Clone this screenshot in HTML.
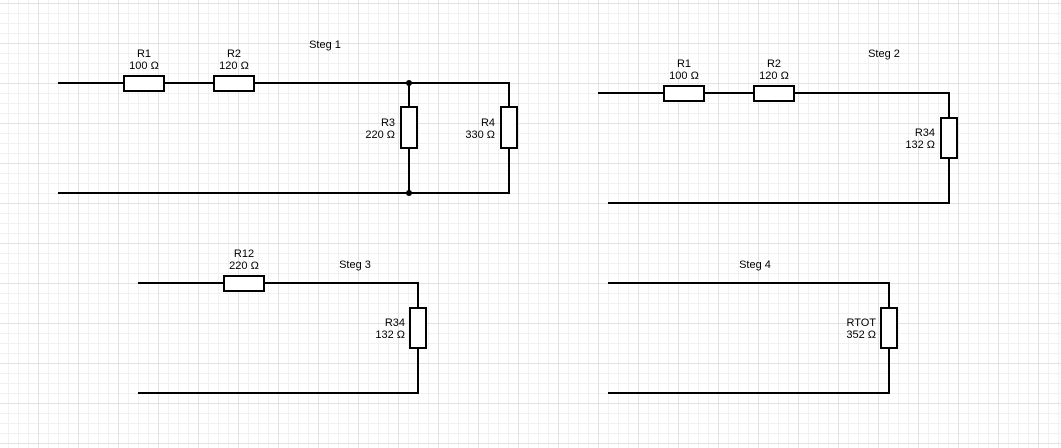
<!DOCTYPE html>
<html><head><meta charset="utf-8"><style>
html,body{margin:0;padding:0;background:#fff}
body{width:1061px;height:448px;overflow:hidden;
background-image:linear-gradient(#e2e2e2 1px,transparent 1px),linear-gradient(90deg,#e2e2e2 1px,transparent 1px),linear-gradient(#f1f1f1 1px,transparent 1px),linear-gradient(90deg,#f1f1f1 1px,transparent 1px);
background-size:40px 40px,40px 40px,10px 10px,10px 10px;background-position:-2px 3px,-2px 3px,-2px 3px,-2px 3px}
svg text{font-family:"Liberation Sans",Arial,sans-serif;font-size:11px;fill:#000}
</style></head><body>
<svg width="1061" height="448" xmlns="http://www.w3.org/2000/svg" style="position:absolute;left:0;top:0">
<g stroke="#000" stroke-width="2" fill="none">
<!-- Steg1 -->
<path d="M58 83H124M164 83H213M254 83H509V107M509 148V193H58M409 83V107M409 148V193"/>
<rect x="124" y="76" width="40" height="15" fill="#fff"/>
<rect x="214" y="76" width="40" height="15" fill="#fff"/>
<rect x="401" y="107" width="16" height="41" fill="#fff"/>
<rect x="501" y="107" width="16" height="41" fill="#fff"/>
<!-- Steg2 -->
<path d="M598 93H664M704 93H754M794 93H949V118M949 158V203H608"/>
<rect x="664" y="86" width="40" height="15" fill="#fff"/>
<rect x="754" y="86" width="40" height="15" fill="#fff"/>
<rect x="941" y="118" width="16" height="40" fill="#fff"/>
<!-- Steg3 -->
<path d="M138 283H224M264 283H418V308M418 348V393H138"/>
<rect x="224" y="276" width="40" height="15" fill="#fff"/>
<rect x="410" y="308" width="16" height="40" fill="#fff"/>
<!-- Steg4 -->
<path d="M608 283H889V308M889 348V393H608"/>
<rect x="881" y="308" width="16" height="40" fill="#fff"/>
</g>
<circle cx="409" cy="83" r="3"/><circle cx="409" cy="193" r="3"/>
<g text-anchor="middle">
<text x="144" y="57">R1</text><text x="144" y="69">100 Ω</text>
<text x="234" y="57">R2</text><text x="234" y="69">120 Ω</text>
<text x="325" y="48">Steg 1</text>
<text x="684" y="67">R1</text><text x="684" y="79">100 Ω</text>
<text x="774" y="67">R2</text><text x="774" y="79">120 Ω</text>
<text x="884" y="57">Steg 2</text>
<text x="244" y="257">R12</text><text x="244" y="269">220 Ω</text>
<text x="355" y="268">Steg 3</text>
<text x="755" y="268">Steg 4</text>
</g>
<g text-anchor="end">
<text x="395" y="126">R3</text><text x="395" y="138">220 Ω</text>
<text x="495" y="126">R4</text><text x="495" y="138">330 Ω</text>
<text x="935" y="136">R34</text><text x="935" y="148">132 Ω</text>
<text x="405" y="326">R34</text><text x="405" y="338">132 Ω</text>
<text x="876" y="326">RTOT</text><text x="876" y="338">352 Ω</text>
</g>
</svg>
</body></html>
